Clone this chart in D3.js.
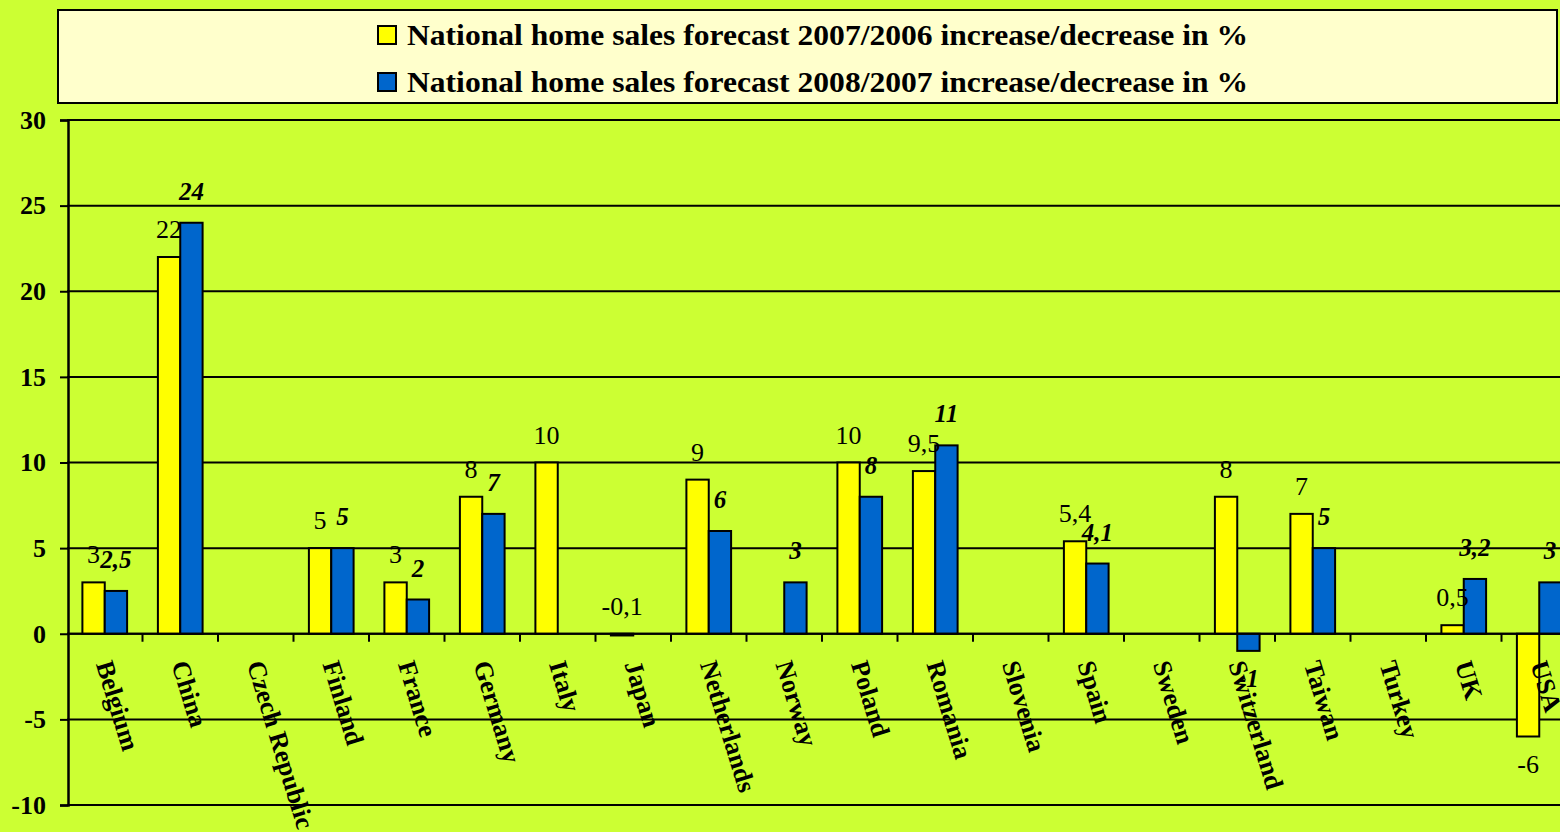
<!DOCTYPE html>
<html>
<head>
<meta charset="utf-8">
<script src="https://cdn.jsdelivr.net/npm/d3@7"></script>
<style>
	body { margin: 0; background: #ccff33; }
	svg { display: block; font-family: "Liberation Serif", "Times New Roman", serif; }
</style>
</head>
<body>
<script>
var width = 1560,
	height = 832;

var countries = ['Belgium', 'China', 'Czech Republic', 'Finland', 'France', 'Germany', 'Italy', 'Japan',
	'Netherlands', 'Norway', 'Poland', 'Romania', 'Slovenia', 'Spain', 'Sweden', 'Switzerland',
	'Taiwan', 'Turkey', 'UK', 'USA'];

var sales2007 = [3, 22, null, 5, 3, 8, 10, -0.1, 9, null, 10, 9.5, null, 5.4, null, 8, 7, null, 0.5, -6];
var sales2008 = [2.5, 24, null, 5, 2, 7, null, null, 6, 3, 8, 11, null, 4.1, null, -1, 5, null, 3.2, 3];

var seriesNames = [
	'National home sales forecast 2007/2006 increase/decrease in %',
	'National home sales forecast 2008/2007 increase/decrease in %'
];
var seriesColors = ['#ffff00', '#0066cc'];

var yTicks = [-10, -5, 0, 5, 10, 15, 20, 25, 30];

var margin = {
	left: 67,
	right: 1577,
	top: 120,
	bottom: 805
};

var svg = d3.select('body')
	.append('svg')
	.attr('width', width)
	.attr('height', height);

svg.append('rect')
	.attr('width', width)
	.attr('height', height)
	.attr('fill', '#ccff33');

var x = d3.scaleBand()
	.domain(countries)
	.range([margin.left, margin.right]);

var y = d3.scaleLinear()
	.domain([-10, 30])
	.range([margin.bottom, margin.top]);

// grid lines
svg.append('g')
	.selectAll('line')
	.data(yTicks)
	.enter()
	.append('line')
	.attr('x1', margin.left)
	.attr('x2', width)
	.attr('y1', function(d) { return y(d); })
	.attr('y2', function(d) { return y(d); })
	.attr('stroke', '#000')
	.attr('stroke-width', 2);

// y axis
var yAxis = svg.append('g')
	.attr('transform', 'translate(' + (margin.left + 1) + ',0)')
	.call(d3.axisLeft(y)
		.tickValues(yTicks)
		.tickFormat(function(d) { return String(d); })
		.tickSize(8)
		.tickPadding(14));

yAxis.select('.domain').attr('stroke', '#000').attr('stroke-width', 2.5);
yAxis.selectAll('.tick line').attr('stroke', '#000').attr('stroke-width', 2);
yAxis.selectAll('.tick text')
	.attr('fill', '#000')
	.style('font-family', '"Liberation Serif", serif')
	.style('font-weight', 'bold')
	.style('font-size', '26px');

var data = countries.map(function(c, i) {
	return { country: c, values: [sales2007[i], sales2008[i]] };
});

var bw = x.bandwidth() * 0.296;

function fmt(v) {
	return String(v).replace('.', ',');
}

function points(d) {
	return d.values.map(function(v, s) { return { country: d.country, v: v, s: s }; })
		.filter(function(e) { return e.v !== null; });
}

var groups = svg.append('g')
	.selectAll('g')
	.data(data)
	.enter()
	.append('g');

groups.selectAll('rect')
	.data(points)
	.enter()
	.append('rect')
	.attr('x', function(d) { return x(d.country) + x.bandwidth() / 2 - bw + d.s * bw; })
	.attr('y', function(d) { return Math.min(y(d.v), y(0)); })
	.attr('width', bw)
	.attr('height', function(d) { return Math.abs(y(d.v) - y(0)); })
	.attr('fill', function(d) { return seriesColors[d.s]; })
	.attr('stroke', '#000')
	.attr('stroke-width', 2);

// zero axis + ticks
svg.append('g')
	.selectAll('line')
	.data(countries.slice(1))
	.enter()
	.append('line')
	.attr('x1', function(d) { return x(d); })
	.attr('x2', function(d) { return x(d); })
	.attr('y1', y(0))
	.attr('y2', y(0) + 8)
	.attr('stroke', '#000')
	.attr('stroke-width', 2);

svg.append('line')
	.attr('x1', margin.left)
	.attr('x2', width)
	.attr('y1', y(0))
	.attr('y2', y(0))
	.attr('stroke', '#000')
	.attr('stroke-width', 2);

// category labels
svg.append('g')
	.selectAll('text')
	.data(countries)
	.enter()
	.append('text')
	.attr('transform', function(d) {
		return 'translate(' + (x(d) + x.bandwidth() / 2 - 9) + ',' + 664 + ') rotate(73)';
	})
	.attr('font-size', 26)
	.attr('font-weight', 'bold')
	.text(function(d) { return d; });

// value labels
groups.selectAll('text')
	.data(points)
	.enter()
	.append('text')
	.attr('x', function(d) {
		var cx = x(d.country) + x.bandwidth() / 2 - bw / 2 + d.s * bw;
		return Math.min(cx, width - 10);
	})
	.attr('y', function(d) {
		if (d.v < -0.5) return y(d.v) + 36;
		return y(Math.max(d.v, 0)) - (d.s ? 23 : 19);
	})
	.attr('text-anchor', 'middle')
	.attr('font-size', function(d) { return d.s ? 25 : 26; })
	.attr('font-weight', function(d) { return d.s ? 'bold' : 'normal'; })
	.attr('font-style', function(d) { return d.s ? 'italic' : 'normal'; })
	.text(function(d) { return fmt(d.v); });

// legend
var legend = svg.append('g');

legend.append('rect')
	.attr('x', 58)
	.attr('y', 10)
	.attr('width', 1499)
	.attr('height', 93)
	.attr('fill', '#ffffcc')
	.attr('stroke', '#000')
	.attr('stroke-width', 2);

var items = legend.selectAll('g')
	.data(seriesNames)
	.enter()
	.append('g')
	.attr('transform', function(d, i) { return 'translate(378,' + (26 + i * 47) + ')'; });

items.append('rect')
	.attr('width', 18)
	.attr('height', 18)
	.attr('fill', function(d, i) { return seriesColors[i]; })
	.attr('stroke', '#000')
	.attr('stroke-width', 2);

items.append('text')
	.attr('x', 29)
	.attr('y', 19)
	.attr('font-size', 29)
	.attr('font-weight', 'bold')
	.attr('textLength', 841)
	.attr('lengthAdjust', 'spacingAndGlyphs')
	.text(function(d) { return d; });
</script>
</body>
</html>
